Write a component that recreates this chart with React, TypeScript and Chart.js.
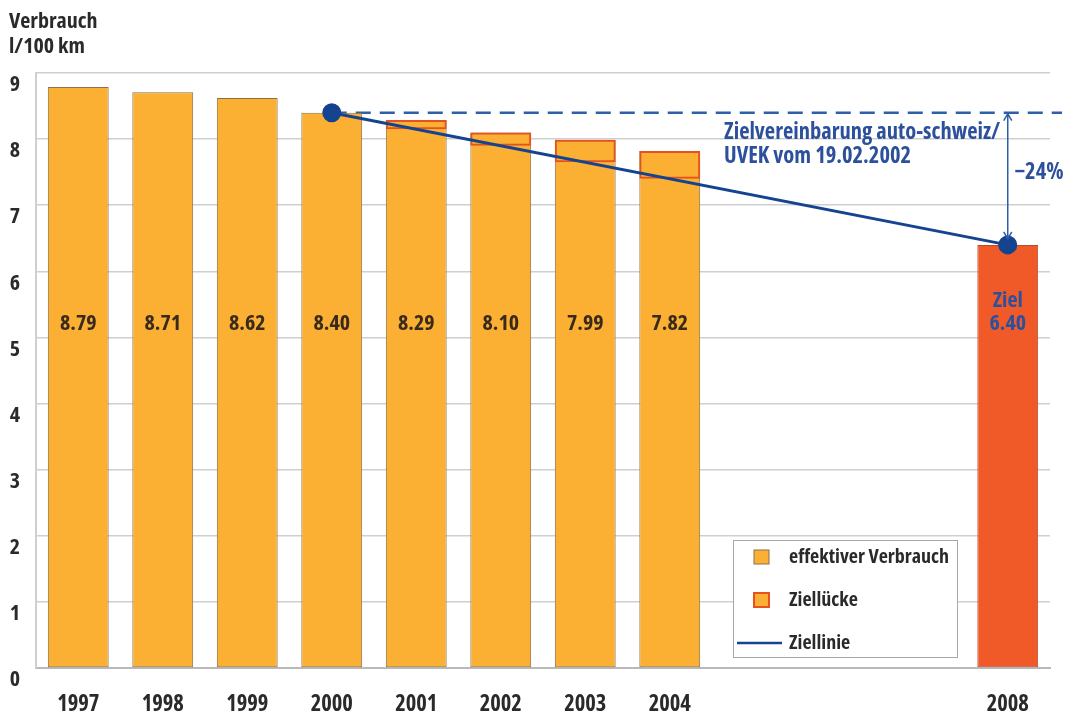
import React, { useEffect, useRef } from "react";
import { Chart, registerables } from "chart.js";
Chart.register(...registerables);

const years = ["1997", "1998", "1999", "2000", "2001", "2002", "2003", "2004", "2005", "2006", "2007", "2008"];
const verbrauch: (number | null)[] = [8.79, 8.71, 8.62, 8.4, 8.29, 8.1, 7.99, 7.82, null, null, null, null];
const ziel2008: (number | null)[] = [null, null, null, null, null, null, null, null, null, null, null, 6.4];
const zielLinieProJahr: (number | null)[] = [null, null, null, null, 8.15, 7.9, 7.65, 7.4, null, null, null, null];
const ziellinie: (number | null)[] = [null, null, null, 8.4, null, null, null, null, null, null, null, 6.4];
const valueLabels = ["8.79", "8.71", "8.62", "8.40", "8.29", "8.10", "7.99", "7.82", "", "", "", ""];
const zielLabel = ["Ziel", "6.40"];
const noteLines = ["Zielvereinbarung auto-schweiz/", "UVEK vom 19.02.2002"];
const reductionLabel = "\u221224%";
const legendItems = ["effektiver Verbrauch", "Ziellücke", "Ziellinie"];
const axisTitle = ["Verbrauch", "l/100 km"];

const FONT = "'Open Sans', 'DejaVu Sans', sans-serif";
const W = "bold semi-condensed";
const ORANGE = "#FBB034";
const ORANGE_BORDER = "#8d6f48";
const RED = "#F05A28";
const RED_BORDER = "#E4531F";
const BLUE = "#14438f";
const BLUE_TEXT = "#2C509C";
const DASH_BLUE = "#2E5EA7";
const TEXT = "#2a2a2a";

const annotations = {
  id: "annotations",
  beforeDatasetsDraw(chart: any) {
    const { ctx, scales } = chart;
    const x = scales.x;
    const y = scales.y;
    const bx = 733, by = 540, bw = 224, bh = 117;
    ctx.save();
    ctx.fillStyle = "#ffffff";
    ctx.fillRect(bx, by, bw, bh);
    ctx.strokeStyle = "#a8a8a8";
    ctx.lineWidth = 1;
    ctx.strokeRect(bx + 0.5, by + 0.5, bw, bh);
    const rows = [557, 600, 643];
    ctx.fillStyle = ORANGE;
    ctx.fillRect(754, rows[0] - 7, 15, 14);
    ctx.strokeStyle = ORANGE_BORDER;
    ctx.strokeRect(754, rows[0] - 7, 15, 14);
    ctx.fillStyle = ORANGE;
    ctx.fillRect(754, rows[1] - 7, 15, 14);
    ctx.strokeStyle = RED_BORDER;
    ctx.lineWidth = 2;
    ctx.strokeRect(754, rows[1] - 7, 15, 14);
    ctx.strokeStyle = BLUE;
    ctx.lineWidth = 2.5;
    ctx.beginPath();
    ctx.moveTo(737, rows[2]);
    ctx.lineTo(782, rows[2]);
    ctx.stroke();
    ctx.fillStyle = TEXT;
    ctx.font = `${W} 20px ${FONT}`;
    ctx.textBaseline = "middle";
    ctx.textAlign = "left";
    legendItems.forEach((t, i) => ctx.fillText(t, 789, rows[i]));

    const y84 = y.getPixelForValue(ziellinie[3] as number);
    ctx.strokeStyle = DASH_BLUE;
    ctx.lineWidth = 2.5;
    ctx.setLineDash([15, 9]);
    ctx.beginPath();
    ctx.moveTo(x.getPixelForValue(3), y84);
    ctx.lineTo(chart.chartArea.right + 12, y84);
    ctx.stroke();
    ctx.setLineDash([]);
    ctx.restore();
  },
  afterDatasetsDraw(chart: any) {
    const { ctx, scales } = chart;
    const x = scales.x;
    const y = scales.y;
    ctx.save();
    ctx.textAlign = "center";
    ctx.textBaseline = "middle";
    ctx.font = `${W} 22px ${FONT}`;
    ctx.fillStyle = "#3a2a1c";
    const ly = y.getPixelForValue(5.21);
    valueLabels.forEach((t, i) => {
      if (t) ctx.fillText(t, x.getPixelForValue(i), ly);
    });
    ctx.fillStyle = BLUE_TEXT;
    const xi = x.getPixelForValue(11);
    ctx.fillText(zielLabel[0], xi, y.getPixelForValue(5.56));
    ctx.fillText(zielLabel[1], xi, y.getPixelForValue(5.2));

    ctx.font = `${W} 22.5px ${FONT}`;
    ctx.textAlign = "left";
    ctx.fillText(noteLines[0], 724, y.getPixelForValue(8.1));
    ctx.fillText(noteLines[1], 724, y.getPixelForValue(7.74));
    ctx.textAlign = "center";
    ctx.fillText(reductionLabel, 1039, y.getPixelForValue(7.5));

    const top = y.getPixelForValue(8.4);
    const bot = y.getPixelForValue(6.4) - 6;
    ctx.strokeStyle = DASH_BLUE;
    ctx.lineWidth = 1.5;
    ctx.beginPath();
    ctx.moveTo(xi, top + 1);
    ctx.lineTo(xi, bot);
    ctx.moveTo(xi - 4, top + 8);
    ctx.lineTo(xi, top + 1);
    ctx.lineTo(xi + 4, top + 8);
    ctx.moveTo(xi - 4, bot - 7);
    ctx.lineTo(xi, bot);
    ctx.lineTo(xi + 4, bot - 7);
    ctx.stroke();

    ctx.fillStyle = TEXT;
    ctx.font = `${W} 22px ${FONT}`;
    ctx.textAlign = "left";
    ctx.fillText(axisTitle[0], 9, 22);
    ctx.fillText(axisTitle[1], 9, 47);
    ctx.restore();
  },
};

export default function App() {
  const ref = useRef<HTMLCanvasElement | null>(null);
  useEffect(() => {
    document.body.style.margin = "0";
    const canvas = ref.current!;
    const chart = new Chart(canvas, {
      type: "bar",
      data: {
        labels: years,
        datasets: [
          {
            type: "line",
            label: legendItems[2],
            data: ziellinie,
            spanGaps: true,
            borderColor: BLUE,
            borderWidth: 3,
            pointRadius: 8,
            pointBackgroundColor: BLUE,
            pointBorderColor: BLUE,
            order: 0,
          } as any,
          {
            label: legendItems[1],
            data: zielLinieProJahr.map((v, i) => (v == null ? null : [v, verbrauch[i] as number])) as any,
            backgroundColor: "rgba(0,0,0,0)",
            borderColor: RED_BORDER,
            borderWidth: 2,
            borderSkipped: false,
            grouped: false,
            order: 1,
          },
          {
            label: legendItems[0],
            data: verbrauch,
            backgroundColor: ORANGE,
            borderColor: ORANGE_BORDER,
            borderWidth: 1,
            borderSkipped: false,
            grouped: false,
            order: 2,
          },
          {
            label: "Ziel",
            data: ziel2008,
            backgroundColor: RED,
            borderColor: "#b94a2a",
            borderWidth: 1,
            borderSkipped: false,
            grouped: false,
            order: 3,
          },
        ],
      },
      options: {
        responsive: false,
        animation: false,
        layout: { padding: { top: 73, right: 22, bottom: 0, left: 0 } },
        plugins: { legend: { display: false }, tooltip: { enabled: false } },
        datasets: { bar: { barPercentage: 0.72, categoryPercentage: 1 } },
        scales: {
          x: {
            grid: { display: false, drawTicks: false },
            border: { display: true, color: "#b9b9b9", width: 2 },
            ticks: {
              font: { family: FONT, size: 22.5, weight: W as any },
              color: TEXT,
              padding: 23,
              autoSkip: false,
              maxRotation: 0,
              callback: (_v: any, i: number) =>
                verbrauch[i] != null || ziel2008[i] != null ? years[i] : "",
            },
            afterFit: (s: any) => {
              s.height = 47;
            },
          },
          y: {
            min: 0,
            max: 9,
            grid: { color: "#cfcfcf", lineWidth: 1.5, drawTicks: false },
            border: { display: true, color: "#cfcfcf", width: 2 },
            ticks: {
              stepSize: 1,
              font: { family: FONT, size: 22, weight: W as any },
              color: TEXT,
              padding: 16,
              labelOffset: 12,
            },
            afterFit: (s: any) => {
              s.width = 36;
            },
          },
        },
      },
      plugins: [annotations],
    });
    return () => chart.destroy();
  }, []);
  return (
    <div style={{ width: 1072, height: 715 }}>
      <canvas ref={ref} width={1072} height={715} />
    </div>
  );
}
